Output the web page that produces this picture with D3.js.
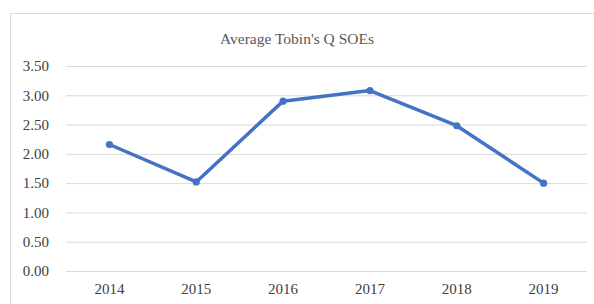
<!DOCTYPE html>
<html>
<head>
<meta charset="utf-8">
<script src="https://cdn.jsdelivr.net/npm/d3@7"></script>
<style>
  html, body { margin: 0; padding: 0; background: #fff; }
  svg { display: block; }
</style>
</head>
<body>
<svg id="chart" width="594" height="304"></svg>
<script>
const title = "Average Tobin's Q SOEs";
const years = ["2014", "2015", "2016", "2017", "2018", "2019"];
const values = [2.16, 1.52, 2.90, 3.08, 2.48, 1.50];
const yTicks = [0, 0.5, 1.0, 1.5, 2.0, 2.5, 3.0, 3.5];

const svg = d3.select("#chart");
const W = 594, H = 304;
const m = { left: 66, right: 7, top: 66, bottom: 33 };

svg.append("rect").attr("x", 10.5).attr("y", 13.5)
  .attr("width", W + 20).attr("height", H + 20)
  .attr("fill", "#fff").attr("stroke", "#d9d9d9").attr("stroke-width", 1);

const x = d3.scaleBand().domain(years).range([m.left, W - m.right]);
const y = d3.scaleLinear().domain([0, 3.5]).range([H - m.bottom, m.top]);

// gridlines
const yAxis = d3.axisLeft(y).tickValues(yTicks)
  .tickSize(-(W - m.right - m.left)).tickFormat(d3.format(".2f")).tickPadding(17);
const gy = svg.append("g").attr("transform", `translate(${m.left},0)`).call(yAxis);
gy.select(".domain").remove();
gy.selectAll(".tick line").attr("stroke", "#d9d9d9").attr("stroke-width", 1);
gy.selectAll(".tick text").attr("fill", "#404040")
  .style("font-family", "'Liberation Serif', 'Times New Roman', serif")
  .style("font-size", "15px");

const xAxis = d3.axisBottom(x).tickSize(0).tickPadding(12);
const gx = svg.append("g").attr("transform", `translate(0,${H - m.bottom})`).call(xAxis);
gx.select(".domain").remove();
gx.selectAll(".tick text").attr("fill", "#404040")
  .style("font-family", "'Liberation Serif', 'Times New Roman', serif")
  .style("font-size", "15px");

const data = years.map((d, i) => ({ year: d, v: values[i] }));
const line = d3.line().x(d => x(d.year) + x.bandwidth() / 2).y(d => y(d.v));
svg.append("path").datum(data).attr("d", line)
  .attr("fill", "none").attr("stroke", "#4472c4").attr("stroke-width", 3.5)
  .attr("stroke-linejoin", "round").attr("stroke-linecap", "round");
svg.selectAll("circle.pt").data(data).enter().append("circle")
  .attr("class", "pt")
  .attr("cx", d => x(d.year) + x.bandwidth() / 2).attr("cy", d => y(d.v))
  .attr("r", 3.6).attr("fill", "#4472c4");

svg.append("text").attr("x", 297).attr("y", 44).attr("text-anchor", "middle")
  .attr("fill", "#595959")
  .style("font-family", "'Liberation Serif', 'Times New Roman', serif")
  .style("font-size", "15.5px").text(title);
</script>
</body>
</html>
